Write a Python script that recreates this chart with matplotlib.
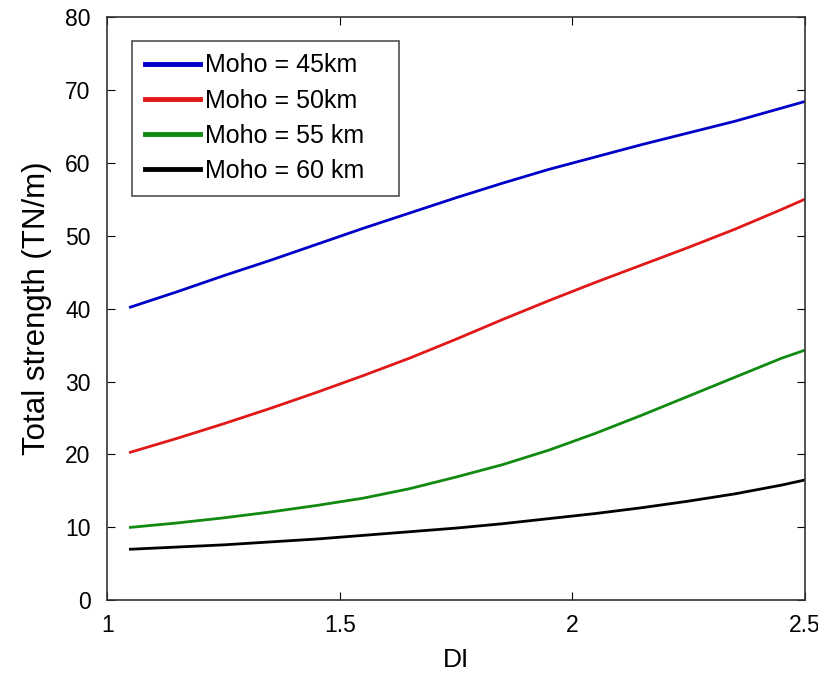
from matplotlib import pyplot as plt
import numpy as np

plt.rcParams['font.family'] = ['Liberation Sans', 'DejaVu Sans']

di = [1.05, 1.15, 1.25, 1.35, 1.45, 1.55, 1.65, 1.75, 1.85, 1.95,
      2.05, 2.15, 2.25, 2.35, 2.45, 2.5]
moho45 = [40.2, 42.3, 44.5, 46.6, 48.8, 51.0, 53.1, 55.2, 57.2, 59.1,
          60.8, 62.5, 64.1, 65.7, 67.5, 68.4]
moho50 = [20.3, 22.2, 24.2, 26.3, 28.5, 30.8, 33.2, 35.8, 38.5, 41.1,
          43.6, 46.0, 48.4, 50.9, 53.6, 55.0]
moho55 = [10.0, 10.6, 11.3, 12.1, 13.0, 14.0, 15.3, 16.9, 18.6, 20.6,
          22.9, 25.4, 28.0, 30.6, 33.2, 34.3]
moho60 = [7.0, 7.3, 7.6, 8.0, 8.4, 8.9, 9.4, 9.9, 10.5, 11.2,
          11.9, 12.7, 13.6, 14.6, 15.8, 16.5]

labels = ['Moho = 45km', 'Moho = 50km', 'Moho = 55 km', 'Moho = 60 km']
colors = ['#0000c8', '#e01818', '#118a11', '#000000']

fig = plt.figure(figsize=(8.18, 6.76), dpi=100)
ax = fig.add_axes([0.131, 0.112, 0.853, 0.863])

for ys, lab, c in zip([moho45, moho50, moho55, moho60], labels, colors):
    ax.plot(di, ys, color=c, lw=2.0, label=lab)

ax.set_xlim(1, 2.5)
ax.set_ylim(0, 80)
ax.set_xticks([1, 1.5, 2, 2.5])
ax.set_xticklabels(['1', '1.5', '2', '2.5'])
ax.set_yticks(np.arange(0, 81, 10))
ax.tick_params(direction='in', top=True, right=True, labelsize=16.5, length=6)
ax.tick_params(axis='x', pad=10)
ax.tick_params(axis='y', pad=12)
for s in ax.spines.values():
    s.set_linewidth(1.2)
    s.set_color('#333333')

ax.set_xlabel('DI', fontsize=19, labelpad=8)
ax.set_ylabel('Total strength (TN/m)', fontsize=22.5, labelpad=9)

# legend box stretched to the reference width
leg = ax.legend(loc='upper left', bbox_to_anchor=(0.036, 0.691, 0.382, 0.268),
                mode='expand', fontsize=18, frameon=True, fancybox=False,
                handlelength=2.2, handletextpad=0.2, labelspacing=0.45,
                borderpad=0.5, borderaxespad=0)
leg.get_frame().set_edgecolor('#222222')
leg.get_frame().set_linewidth(1.2)
for line in leg.get_lines():
    line.set_linewidth(3.5)

plt.savefig('out.png', dpi=100)
